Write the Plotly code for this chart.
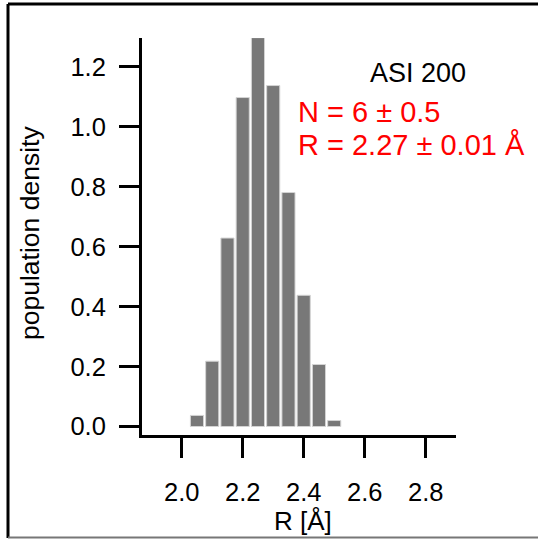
import plotly.graph_objects as go

# Data
bin_centers = [2.05, 2.10, 2.15, 2.20, 2.25, 2.30, 2.35, 2.40, 2.45, 2.50]
density = [0.037, 0.218, 0.629, 1.098, 1.298, 1.138, 0.781, 0.438, 0.207, 0.02]
x_ticks = [2.0, 2.2, 2.4, 2.6, 2.8]
x_tick_labels = ["2.0", "2.2", "2.4", "2.6", "2.8"]
y_ticks = [0.0, 0.2, 0.4, 0.6, 0.8, 1.0, 1.2]
y_tick_labels = ["0.0", "0.2", "0.4", "0.6", "0.8", "1.0", "1.2"]
bin_width = 0.05

W, H = 538, 539
L, R, T, B = 142, 82, 38, 104
PW, PH = W - L - R, H - T - B


def px(x):
    return (x - L) / PW


def py(y):
    return (H - B - y) / PH


FONT = "Liberation Sans, Arial, Helvetica, sans-serif"

fig = go.Figure(
    go.Bar(
        x=bin_centers,
        y=density,
        width=bin_width * 0.86,
        marker=dict(color="#787878", line=dict(color="#d4d4d4", width=1)),
    )
)

fig.update_layout(
    width=W,
    height=H,
    margin=dict(l=L, r=R, t=T, b=B, pad=0),
    paper_bgcolor="white",
    plot_bgcolor="white",
    showlegend=False,
    font=dict(family=FONT, size=25, color="black"),
    xaxis=dict(
        range=[1.8698, 2.8993],
        tickvals=x_ticks,
        ticktext=x_tick_labels,
        showgrid=False,
        zeroline=False,
        showline=True,
        linecolor="black",
        linewidth=3,
        ticks="outside",
        ticklen=20,
        tickwidth=3,
        tickcolor="black",
        ticklabelstandoff=12,
        tickfont=dict(size=25.5, family=FONT),
    ),
    yaxis=dict(
        range=[-0.0283, 1.2967],
        tickvals=y_ticks,
        ticktext=y_tick_labels,
        showgrid=False,
        zeroline=False,
        showline=True,
        linecolor="black",
        linewidth=3,
        ticks="outside",
        ticklen=20,
        tickwidth=3,
        tickcolor="black",
        ticklabelstandoff=8,
        tickfont=dict(size=25.5, family=FONT),
    ),
)

annots = [
    dict(text="ASI 200", x=px(418), y=py(73), color="black", size=27, xanchor="center"),
    dict(text="N = 6 ± 0.5", x=px(296), y=py(112), color="#ff0000", size=29, xanchor="left"),
    dict(text="R = 2.27 ± 0.01 Å", x=px(296), y=py(145), color="#ff0000", size=29, xanchor="left"),
    dict(text="R [Å]", x=px(303), y=py(521), color="black", size=26, xanchor="center"),
]
for a in annots:
    fig.add_annotation(
        text=a["text"], x=a["x"], y=a["y"], xref="paper", yref="paper",
        xanchor=a["xanchor"], yanchor="middle", showarrow=False,
        font=dict(size=a["size"], color=a["color"], family=FONT),
    )

fig.add_annotation(
    text="population density", x=px(30), y=py(233), xref="paper", yref="paper",
    xanchor="center", yanchor="middle", textangle=-90, showarrow=False,
    font=dict(size=26.5, color="black", family=FONT),
)

# outer frame
fig.add_shape(type="line", xref="paper", yref="paper", x0=px(8), x1=px(8), y0=py(4), y1=py(538),
              line=dict(color="black", width=3))
fig.add_shape(type="line", xref="paper", yref="paper", x0=px(8), x1=px(545), y0=py(4), y1=py(4),
              line=dict(color="black", width=3))
fig.add_shape(type="line", xref="paper", yref="paper", x0=px(8), x1=px(545), y0=py(537.5), y1=py(537.5),
              line=dict(color="#777777", width=2))

fig.write_html("out.html")
